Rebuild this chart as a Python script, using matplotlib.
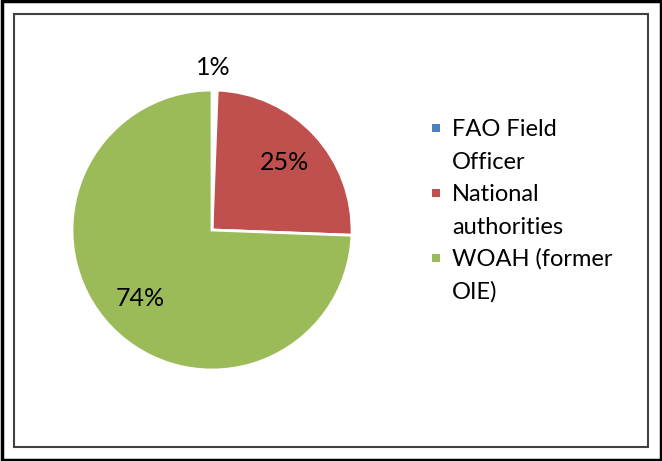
import matplotlib.pyplot as plt
from matplotlib.patches import Rectangle

# Data
labels = ["FAO Field\nOfficer", "National\nauthorities", "WOAH (former\nOIE)"]
shares = [0.6, 25.0, 74.4]
colors = ["#4F81BD", "#C0504D", "#9BBB59"]

W, H = 662, 461
fig = plt.figure(figsize=(W / 100, H / 100), dpi=100)
plt.rcParams['font.family'] = ['Lato', 'DejaVu Sans']

# Axes in pixel units (y up)
ax = fig.add_axes([0, 0, 1, 1])
ax.axis("off")

wedges, texts, autotexts = ax.pie(
    shares, colors=colors, startangle=90, counterclock=False,
    center=(212, 231), radius=140, autopct="%.0f%%", pctdistance=0.71,
    wedgeprops=dict(edgecolor="white", linewidth=2),
    textprops=dict(fontsize=18, color="black"))
ax.set_xlim(0, W)
ax.set_ylim(0, H)
ax.set_aspect("equal")

# the tiny slice is hidden by the white separators in the original
wedges[0].set_linewidth(4)

# small slice label sits outside the pie
autotexts[0].set_position((213, H - 68))

# Legend, drawn by hand so the marker sits on the first line
first_baseline = 136
entry_step = 65
line_step = 33
for i, (lab, col) in enumerate(zip(labels, colors)):
    yb = first_baseline + i * entry_step
    ax.add_patch(Rectangle((432, H - yb + 4), 8, 8, facecolor=col, edgecolor="none"))
    for j, line in enumerate(lab.split("\n")):
        ax.text(452, H - (yb + j * line_step), line, fontsize=17, va="baseline", ha="left")

# Borders
fig.patches.append(Rectangle((1.5 / W, 1.5 / H), (W - 3) / W, (H - 3) / H, transform=fig.transFigure,
                             fill=False, edgecolor="black", linewidth=2.5))
fig.patches.append(Rectangle((14 / W, 14 / H), (W - 28) / W, (H - 28) / H, transform=fig.transFigure,
                             fill=False, edgecolor="#404040", linewidth=1.5))

fig.savefig("out.png", dpi=100)
